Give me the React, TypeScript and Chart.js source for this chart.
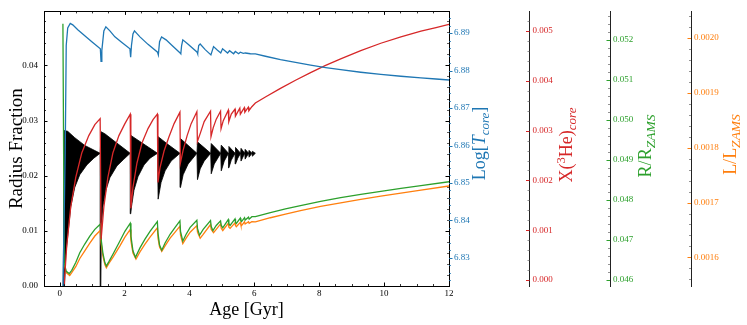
import React, { useEffect, useRef } from 'react';
import { Chart, registerables } from 'chart.js';

Chart.register(...registerables);

// ---- data (age in Gyr, value) ----
const logTcore: [number, number][] = [
  [0.102, 6.8225], [0.170, 6.8580], [0.201, 6.8867], [0.247, 6.8914], [0.325, 6.8926],
  [0.402, 6.8922], [0.557, 6.8909], [0.773, 6.8893], [0.990, 6.8877], [1.253, 6.8858],
  [1.274, 6.8825], [1.299, 6.8854], [1.361, 6.8906], [1.423, 6.8917], [1.547, 6.8906],
  [1.701, 6.8890], [1.918, 6.8875], [2.165, 6.8858], [2.187, 6.8836], [2.212, 6.8867],
  [2.258, 6.8898], [2.304, 6.8906], [2.474, 6.8890], [2.722, 6.8870], [3.016, 6.8849],
  [3.040, 6.8842], [3.078, 6.8877], [3.140, 6.8890], [3.279, 6.8882], [3.464, 6.8867],
  [3.712, 6.8847], [3.733, 6.8845], [3.758, 6.8867], [3.795, 6.8882], [3.959, 6.8870],
  [4.237, 6.8849], [4.253, 6.8845], [4.284, 6.8867], [4.330, 6.8871], [4.485, 6.8856],
  [4.661, 6.8842], [4.742, 6.8864], [4.856, 6.8855], [4.964, 6.8847], [5.020, 6.8858],
  [5.175, 6.8847], [5.236, 6.8853], [5.360, 6.8845], [5.413, 6.8851], [5.515, 6.8845],
  [5.567, 6.8849], [5.660, 6.8846], [5.722, 6.8847], [5.877, 6.8845], [6.031, 6.88446],
  [6.341, 6.88383], [6.805, 6.88295], [7.269, 6.88217], [7.733, 6.88145], [8.197, 6.88081],
  [8.661, 6.88023], [9.280, 6.87956], [9.898, 6.87898], [10.517, 6.87849], [11.135, 6.87804],
  [11.599, 6.87775], [12.0, 6.87749],
];

const xHe3core: [number, number][] = [
  [0.139, -0.00008], [0.217, 0.00069], [0.340, 0.00147], [0.495, 0.00206], [0.680, 0.00255],
  [0.897, 0.00290], [1.083, 0.00312], [1.247, 0.00324], [1.277, 0.00082], [1.361, 0.00147],
  [1.485, 0.00206], [1.639, 0.00255], [1.825, 0.00290], [2.010, 0.00314], [2.174, 0.00333],
  [2.193, 0.00144], [2.258, 0.00186], [2.382, 0.00235], [2.536, 0.00275], [2.722, 0.00304],
  [2.877, 0.00322], [3.010, 0.00333], [3.028, 0.00196], [3.093, 0.00226], [3.217, 0.00259],
  [3.372, 0.00288], [3.526, 0.00314], [3.706, 0.00337], [3.721, 0.00235], [3.805, 0.00261],
  [3.928, 0.00290], [4.052, 0.00314], [4.228, 0.00338], [4.244, 0.00278], [4.330, 0.00294],
  [4.454, 0.00318], [4.649, 0.00339], [4.664, 0.00288], [4.733, 0.00306], [4.826, 0.00323],
  [4.958, 0.00339], [4.974, 0.00304], [5.042, 0.00320], [5.197, 0.00341], [5.212, 0.00318],
  [5.289, 0.00333], [5.404, 0.00343], [5.416, 0.00329], [5.552, 0.00345], [5.568, 0.00333],
  [5.691, 0.00346], [5.707, 0.00337], [5.815, 0.00347], [5.831, 0.00340], [5.923, 0.00348],
  [6.031, 0.003554], [6.341, 0.003675], [6.805, 0.003847], [7.269, 0.004010], [7.733, 0.004164],
  [8.197, 0.004308], [8.661, 0.004441], [9.280, 0.004606], [9.898, 0.004753], [10.517, 0.004882],
  [11.135, 0.004994], [11.599, 0.005067], [12.0, 0.005131],
];

const radiusRatio: [number, number][] = [
  [0.099, 0.052407], [0.139, 0.046439], [0.201, 0.046220], [0.294, 0.046163], [0.371, 0.046244],
  [0.495, 0.046439], [0.619, 0.046683], [0.773, 0.046902], [0.928, 0.047098], [1.083, 0.047268],
  [1.247, 0.047398], [1.277, 0.047024], [1.330, 0.046683], [1.392, 0.046439], [1.438, 0.046354],
  [1.516, 0.046463], [1.649, 0.046659], [1.856, 0.046976], [2.010, 0.047220], [2.174, 0.047422],
  [2.196, 0.047098], [2.258, 0.046732], [2.335, 0.046568], [2.474, 0.046805], [2.629, 0.047024],
  [2.784, 0.047220], [3.010, 0.047463], [3.031, 0.047171], [3.078, 0.046878], [3.146, 0.046749],
  [3.248, 0.046927], [3.403, 0.047146], [3.557, 0.047317], [3.706, 0.047480], [3.724, 0.047220],
  [3.795, 0.046976], [3.897, 0.047146], [4.021, 0.047317], [4.228, 0.047495], [4.247, 0.047293],
  [4.309, 0.047122], [4.423, 0.047268], [4.649, 0.047488], [4.671, 0.047341], [4.723, 0.047237],
  [4.825, 0.047366], [4.958, 0.047480], [4.980, 0.047366], [5.026, 0.047305], [5.196, 0.047512],
  [5.215, 0.047402], [5.252, 0.047366], [5.404, 0.047529], [5.419, 0.047439], [5.444, 0.047415],
  [5.568, 0.047549], [5.586, 0.047476], [5.605, 0.047463], [5.698, 0.047561], [5.716, 0.047500],
  [5.821, 0.047573], [5.840, 0.047524], [5.923, 0.047585], [6.031, 0.047585], [6.495, 0.047688],
  [6.959, 0.047780], [7.423, 0.047863], [8.042, 0.047968], [8.661, 0.048059], [9.280, 0.048141],
  [9.898, 0.048220], [10.517, 0.048293], [11.135, 0.048363], [12.0, 0.048459],
];

const lumRatio: [number, number][] = [
  [0.139, 0.001589], [0.201, 0.001572], [0.309, 0.001567], [0.371, 0.001572], [0.495, 0.001583],
  [0.619, 0.001598], [0.773, 0.001612], [0.928, 0.001626], [1.083, 0.001639], [1.247, 0.001649],
  [1.277, 0.001626], [1.330, 0.001603], [1.392, 0.001587], [1.438, 0.001581], [1.516, 0.001589],
  [1.649, 0.001601], [1.856, 0.001621], [2.010, 0.001637], [2.174, 0.001651], [2.196, 0.001630],
  [2.258, 0.001608], [2.351, 0.001597], [2.474, 0.001610], [2.629, 0.001624], [2.784, 0.001637],
  [3.010, 0.001654], [3.031, 0.001635], [3.078, 0.001619], [3.146, 0.001611], [3.248, 0.001621],
  [3.403, 0.001635], [3.557, 0.001646], [3.706, 0.001657], [3.724, 0.001641], [3.795, 0.001625],
  [3.897, 0.001635], [4.021, 0.001646], [4.228, 0.001658], [4.247, 0.001646], [4.330, 0.001635],
  [4.423, 0.001642], [4.649, 0.001660], [4.671, 0.001651], [4.742, 0.001645], [4.825, 0.001651],
  [4.958, 0.001661], [4.980, 0.001653], [5.026, 0.001649], [5.196, 0.001662], [5.215, 0.001655],
  [5.252, 0.001653], [5.404, 0.001663], [5.419, 0.001658], [5.444, 0.001656], [5.568, 0.001664],
  [5.586, 0.001659], [5.605, 0.001658], [5.698, 0.001665], [5.716, 0.001661], [5.821, 0.001665],
  [5.840, 0.001662], [5.923, 0.001665], [6.031, 0.0016646], [6.495, 0.0016723], [6.959, 0.0016791],
  [7.423, 0.0016854], [8.042, 0.0016930], [8.661, 0.0016996], [9.280, 0.0017059], [9.898, 0.0017116],
  [10.517, 0.0017171], [11.135, 0.0017225], [12.0, 0.0017302],
];

// convective radius fraction: upper and lower envelopes of the rapid oscillation
const radiusFracUpper: [number, number][] = [
  [0.108, 0.0], [0.142, 0.02820], [0.247, 0.02805], [0.464, 0.02690], [0.773, 0.02549],
  [1.247, 0.02407], [1.277, 0.02797], [1.392, 0.02761], [1.701, 0.02620], [2.174, 0.02407],
  [2.193, 0.02731], [2.474, 0.02620], [3.016, 0.02407], [3.034, 0.02708], [3.341, 0.02566],
  [3.709, 0.02407], [3.724, 0.02673], [4.231, 0.02407], [4.247, 0.02614], [4.655, 0.02407],
  [4.671, 0.02584], [4.964, 0.02407], [4.980, 0.02554], [5.203, 0.02407], [5.215, 0.02531],
  [5.407, 0.02407], [5.419, 0.02513], [5.577, 0.02407], [5.589, 0.02496], [5.704, 0.02407],
  [5.716, 0.02478], [5.824, 0.02407], [5.837, 0.02460], [5.926, 0.02407], [5.939, 0.02443],
  [6.031, 0.02407],
];

const radiusFracLower: [number, number][] = [
  [0.108, 0.0], [0.148, 0.0], [0.186, 0.00549], [0.247, 0.00903], [0.340, 0.01434],
  [0.464, 0.01788], [0.619, 0.02018], [0.835, 0.02195], [1.052, 0.02319], [1.247, 0.02407],
  [1.268, 0.0], [1.284, 0.01044], [1.330, 0.01434], [1.423, 0.01735], [1.547, 0.01965],
  [1.763, 0.02177], [1.980, 0.02301], [2.174, 0.02407], [2.190, 0.01310], [2.212, 0.01434],
  [2.289, 0.01735], [2.413, 0.01982], [2.598, 0.02195], [2.784, 0.02319], [3.016, 0.02407],
  [3.034, 0.01575], [3.124, 0.01876], [3.248, 0.02088], [3.434, 0.02266], [3.709, 0.02407],
  [3.724, 0.01788], [3.805, 0.02018], [3.959, 0.02212], [4.231, 0.02407], [4.247, 0.01929],
  [4.330, 0.02124], [4.454, 0.02266], [4.655, 0.02407], [4.671, 0.02035], [4.764, 0.02212],
  [4.964, 0.02407], [4.980, 0.02088], [5.073, 0.02266], [5.203, 0.02407], [5.215, 0.02142],
  [5.289, 0.02283], [5.407, 0.02407], [5.419, 0.02212], [5.490, 0.02319], [5.577, 0.02407],
  [5.589, 0.02266], [5.704, 0.02407], [5.716, 0.02301], [5.824, 0.02407], [5.837, 0.02336],
  [5.926, 0.02407], [5.939, 0.02354], [6.031, 0.02407],
];

const ageTicks = [0, 2, 4, 6, 8, 10, 12];

const BLUE = '#1f77b4';
const RED = '#d62728';
const GREEN = '#2ca02c';
const ORANGE = '#ff7f0e';
const SERIF = '"Liberation Serif", "Times New Roman", serif';

type Part = { t: string; size: number; italic?: boolean; dy?: number };

const toXY = (arr: [number, number][]) => arr.map(([x, y]) => ({ x, y }));

function partFont(p: Part) {
  return `${p.italic ? 'italic ' : ''}${p.size}px ${SERIF}`;
}

function drawRotatedRich(ctx: CanvasRenderingContext2D, parts: Part[], baseX: number, centerY: number, color: string) {
  ctx.save();
  ctx.fillStyle = color;
  ctx.textBaseline = 'alphabetic';
  ctx.textAlign = 'left';
  let total = 0;
  for (const p of parts) {
    ctx.font = partFont(p);
    total += ctx.measureText(p.t).width;
  }
  ctx.translate(baseX, centerY);
  ctx.rotate(-Math.PI / 2);
  let x = -total / 2;
  for (const p of parts) {
    ctx.font = partFont(p);
    ctx.fillText(p.t, x, p.dy || 0);
    x += ctx.measureText(p.t).width;
  }
  ctx.restore();
}

function isMultiple(v: number, step: number) {
  const r = v / step;
  return Math.abs(r - Math.round(r)) < 1e-6;
}

function minorValues(min: number, max: number, step: number, majorStep: number) {
  const out: number[] = [];
  const s = Math.ceil(min / step - 1e-6);
  const e = Math.floor(max / step + 1e-6);
  for (let i = s; i <= e; i++) {
    const v = i * step;
    if (!isMultiple(v, majorStep)) out.push(v);
  }
  return out;
}

function hLine(ctx: CanvasRenderingContext2D, x1: number, x2: number, y: number) {
  ctx.beginPath();
  ctx.moveTo(x1, y);
  ctx.lineTo(x2, y);
  ctx.stroke();
}
function vLine(ctx: CanvasRenderingContext2D, x: number, y1: number, y2: number) {
  ctx.beginPath();
  ctx.moveTo(x, y1);
  ctx.lineTo(x, y2);
  ctx.stroke();
}

function yTicks(
  ctx: CanvasRenderingContext2D, scale: any, majorStep: number, minorStep: number,
  x: number, dir: number, majorColor: string, minorColor: string,
) {
  ctx.lineWidth = 1;
  ctx.strokeStyle = majorColor;
  for (const t of scale.ticks) {
    const y = Math.round(scale.getPixelForValue(t.value)) + 0.5;
    hLine(ctx, x, x + dir * 3.5, y);
  }
  ctx.strokeStyle = minorColor;
  ctx.lineWidth = 0.8;
  for (const v of minorValues(scale.min, scale.max, minorStep, majorStep)) {
    const y = Math.round(scale.getPixelForValue(v)) + 0.5;
    hLine(ctx, x, x + dir * 2, y);
  }
}

const decorPlugin = {
  id: 'decor',
  afterDraw(chart: any) {
    const ctx: CanvasRenderingContext2D = chart.ctx;
    const { left, right, top, bottom } = chart.chartArea;
    const s = chart.scales;
    ctx.save();
    // top spine
    ctx.strokeStyle = '#000';
    ctx.lineWidth = 1;
    hLine(ctx, left, right, Math.round(top) + 0.5);

    // x ticks (bottom and top, inward)
    const xs = s.x;
    ctx.strokeStyle = '#000';
    for (const t of xs.ticks) {
      const px = Math.round(xs.getPixelForValue(t.value)) + 0.5;
      vLine(ctx, px, bottom, bottom - 3.5);
      vLine(ctx, px, top, top + 3.5);
    }
    ctx.lineWidth = 0.8;
    for (const v of minorValues(xs.min, xs.max, 0.5, 2)) {
      const px = Math.round(xs.getPixelForValue(v)) + 0.5;
      vLine(ctx, px, bottom, bottom - 2);
      vLine(ctx, px, top, top + 2);
    }

    // left axis ticks (inward) mirrored on the right spine
    yTicks(ctx, s.y, 0.01, 0.002, s.y.right, 1, '#000', '#000');
    yTicks(ctx, s.y, 0.01, 0.002, s.yT.left, -1, '#000', '#333');
    // log T axis ticks (outward)
    yTicks(ctx, s.yT, 0.01, 0.002, s.yT.left, 1, BLUE, BLUE);
    // extra offset axes (ticks to the left of the spine)
    yTicks(ctx, s.yX, 0.001, 0.0002, s.yX.left, -1, RED, '#777');
    yTicks(ctx, s.yR, 0.001, 0.0002, s.yR.left, -1, GREEN, '#777');
    yTicks(ctx, s.yL, 0.0001, 0.00002, s.yL.left, -1, ORANGE, '#777');
    ctx.restore();

    // axis titles
    const cy = (top + bottom) / 2;
    drawRotatedRich(ctx, [{ t: 'Radius Fraction', size: 19 }], 21.5, cy, '#000');
    ctx.save();
    ctx.fillStyle = '#000';
    ctx.font = `18px ${SERIF}`;
    ctx.textAlign = 'center';
    ctx.textBaseline = 'alphabetic';
    ctx.fillText('Age [Gyr]', (left + right) / 2, 315);
    ctx.restore();

    drawRotatedRich(ctx, [
      { t: 'Log[', size: 18 },
      { t: 'T', size: 18, italic: true },
      { t: 'core', size: 13, italic: true, dy: 4 },
      { t: ']', size: 18 },
    ], 485, 143.5, BLUE);
    drawRotatedRich(ctx, [
      { t: 'X(', size: 18 },
      { t: '3', size: 12.5, dy: -7 },
      { t: 'He)', size: 18 },
      { t: 'core', size: 13, italic: true, dy: 4 },
    ], 572, 145, RED);
    drawRotatedRich(ctx, [
      { t: 'R/R', size: 18 },
      { t: 'ZAMS', size: 13.5, italic: true, dy: 4 },
    ], 651, 146, GREEN);
    drawRotatedRich(ctx, [
      { t: 'L/L', size: 18 },
      { t: 'ZAMS', size: 13.5, italic: true, dy: 4 },
    ], 736, 144.5, ORANGE);
  },
};

function tickFont() {
  return { family: SERIF, size: 9 };
}

function rightAxis(weight: number, min: number, max: number, step: number, digits: number, color: string, width: number, pad: number) {
  return {
    type: 'linear' as const,
    position: 'right' as const,
    weight,
    min,
    max,
    grid: { display: false, drawTicks: false },
    border: { display: true, color: '#222', width: 1 },
    ticks: {
      stepSize: step,
      includeBounds: false,
      padding: pad,
      color,
      font: tickFont(),
      callback: (v: any) => Number(v).toFixed(digits),
    },
    afterFit: (sc: any) => { sc.width = width; },
  };
}

export default function App() {
  const ref = useRef<HTMLCanvasElement>(null);

  useEffect(() => {
    const canvas = ref.current;
    if (!canvas) return;
    const polygon = [...radiusFracUpper, ...radiusFracLower.slice().reverse()];
    const chart = new Chart(canvas, {
      type: 'line',
      data: {
        datasets: [
          {
            label: 'Log T core', data: toXY(logTcore), yAxisID: 'yT', borderColor: BLUE,
            borderWidth: 1.3, pointRadius: 0, fill: false, order: 0,
          },
          {
            label: 'X(3He) core', data: toXY(xHe3core), yAxisID: 'yX', borderColor: RED,
            borderWidth: 1.3, pointRadius: 0, fill: false, order: 1,
          },
          {
            label: 'R/R_ZAMS', data: toXY(radiusRatio), yAxisID: 'yR', borderColor: GREEN,
            borderWidth: 1.3, pointRadius: 0, fill: false, order: 2,
          },
          {
            label: 'L/L_ZAMS', data: toXY(lumRatio), yAxisID: 'yL', borderColor: ORANGE,
            borderWidth: 1.3, pointRadius: 0, fill: false, order: 3,
          },
          {
            label: 'Radius fraction', data: toXY(polygon), yAxisID: 'y', borderColor: '#000',
            backgroundColor: '#000', borderWidth: 0.8, pointRadius: 0, fill: 'shape', order: 4,
          },
        ],
      },
      options: {
        animation: false,
        responsive: false,
        devicePixelRatio: 1,
        events: [],
        layout: { padding: { top: 5, left: 0, right: 0, bottom: 0 } },
        plugins: { legend: { display: false }, tooltip: { enabled: false } },
        scales: {
          x: {
            type: 'linear',
            position: 'bottom',
            min: -0.484,
            max: 12,
            grid: { display: false, drawTicks: false },
            border: { display: true, color: '#000', width: 1 },
            afterBuildTicks: (sc: any) => { sc.ticks = ageTicks.map((v) => ({ value: v })); },
            ticks: {
              autoSkip: false,
              maxRotation: 0,
              padding: 2,
              color: '#000',
              font: tickFont(),
              callback: (v: any) => String(v),
            },
            afterFit: (sc: any) => { sc.height = 39; },
          },
          y: {
            type: 'linear',
            position: 'left',
            min: 0,
            max: 0.0498,
            grid: { display: false, drawTicks: false },
            border: { display: true, color: '#000', width: 1 },
            ticks: {
              stepSize: 0.01,
              includeBounds: false,
              padding: 6,
              color: '#000',
              font: tickFont(),
              callback: (v: any) => Number(v).toFixed(2),
            },
            afterFit: (sc: any) => { sc.width = 44; },
          },
          yT: { ...rightAxis(1, 6.8225, 6.8958, 0.01, 2, BLUE, 80.5, 5), border: { display: true, color: '#000', width: 1 } },
          yX: rightAxis(2, -0.000118, 0.005392, 0.001, 3, RED, 80.5, 3),
          yR: rightAxis(3, 0.045853, 0.052716, 0.001, 3, GREEN, 81, 3),
          yL: rightAxis(4, 0.0015478, 0.0020487, 0.0001, 4, ORANGE, 56, 3),
        },
      } as any,
      plugins: [decorPlugin],
    });
    return () => chart.destroy();
  }, []);

  return (
    <div style={{ position: 'absolute', left: 0, top: 0, width: 747, height: 325, background: '#fff' }}>
      <canvas ref={ref} width={747} height={325} style={{ display: 'block' }} />
    </div>
  );
}
